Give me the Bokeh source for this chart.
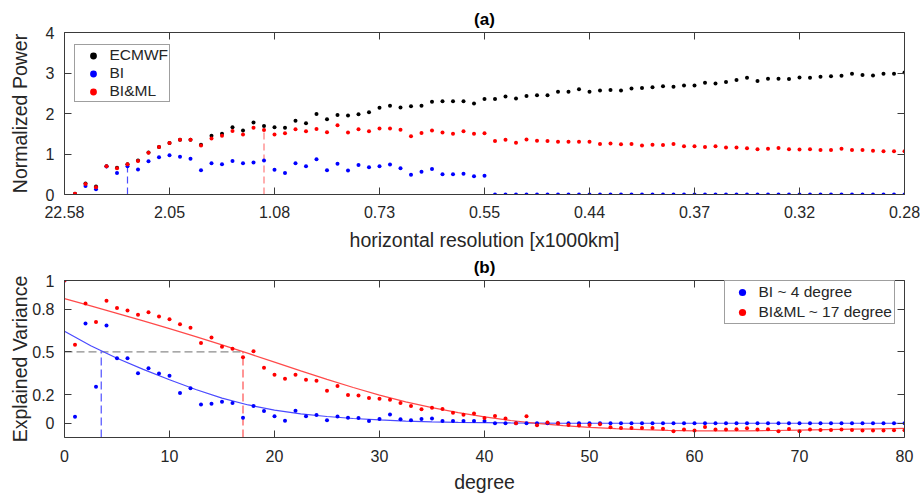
from bokeh.plotting import figure
from bokeh.layouts import column
from bokeh.models import (FixedTicker, LinearAxis, Range1d, Legend, LegendItem,
                          CustomLabelingPolicy)
from bokeh.embed import file_html
from bokeh.resources import INLINE

# ---------------- data: panel (a) ----------------
deg_a = list(range(1, 81))
ecmwf = [0.02, 0.27, 0.20, 0.70, 0.66, 0.75, 0.84, 1.04, 1.17, 1.27, 1.35, 1.35,
         1.23, 1.45, 1.50, 1.66, 1.58, 1.78, 1.69, 1.66, 1.65, 1.82, 1.76, 1.99, 1.86, 1.96, 1.95, 1.98, 2.03, 2.14,
         2.19, 2.15, 2.18, 2.19, 2.29, 2.30, 2.30, 2.30, 2.25, 2.36,
         2.36, 2.42, 2.37, 2.43, 2.45, 2.45, 2.54, 2.54, 2.60, 2.54,
         2.57, 2.58, 2.57, 2.62, 2.63, 2.65, 2.67, 2.66, 2.69, 2.69,
         2.76, 2.74, 2.78, 2.83, 2.88, 2.80, 2.86, 2.86, 2.85, 2.89,
         2.88, 2.91, 2.92, 2.93, 2.98, 2.95, 2.94, 2.98, 2.98, 3.01]
bi_a = [0.00, 0.21, 0.13, 0.69, 0.53, 0.70, 0.62, 0.82, 0.92, 0.97,
        0.93, 0.88, 0.60, 0.77, 0.75, 0.83, 0.77, 0.79, 0.84, 0.61,
        0.53, 0.77, 0.70, 0.87, 0.60, 0.76, 0.59, 0.73, 0.67, 0.70,
        0.74, 0.65, 0.49, 0.56, 0.63, 0.50, 0.50, 0.51, 0.45, 0.46] + [0.0] * 40
biml_a = [0.02, 0.26, 0.18, 0.70, 0.65, 0.75, 0.83, 1.03, 1.17, 1.27,
          1.35, 1.35, 1.21, 1.38, 1.45, 1.57, 1.48, 1.65, 1.59, 1.48,
          1.51, 1.61, 1.56, 1.62, 1.54, 1.71, 1.53, 1.61, 1.56, 1.63,
          1.63, 1.60, 1.44, 1.52, 1.58, 1.53, 1.50, 1.56, 1.50, 1.51,
          1.32, 1.35, 1.28, 1.36, 1.33, 1.32, 1.30, 1.30, 1.30, 1.30,
          1.25, 1.26, 1.24, 1.25, 1.21, 1.23, 1.22, 1.25, 1.19, 1.19,
          1.17, 1.19, 1.16, 1.16, 1.14, 1.12, 1.13, 1.15, 1.12, 1.11,
          1.12, 1.10, 1.10, 1.13, 1.10, 1.10, 1.08, 1.07, 1.07, 1.07]
res_ticks = [0, 10, 20, 30, 40, 50, 60, 70, 80]
res_labels = ["22.58", "2.05", "1.08", "0.73", "0.55", "0.44", "0.37", "0.32", "0.28"]
power_ticks = [0, 1, 2, 3, 4]
cut_a_deg = [6, 19]
cut_a_top = [0.72, 1.63]

# ---------------- data: panel (b) ----------------
deg_b = list(range(0, 81))
bi_b = [1.00, 0.045, 0.698, 0.256, 0.684, 0.456, 0.456, 0.351, 0.385, 0.349,
        0.333, 0.211, 0.245, 0.131, 0.136, 0.151, 0.142, 0.038, 0.121, 0.085,
        0.049, 0.018, 0.087, 0.049, 0.058, 0.020, 0.047, 0.038, 0.036, 0.016,
        0.029, 0.062, 0.027, 0.020, 0.029, 0.033, 0.016, 0.016, 0.016, 0.016,
        0.016] + [0.0] * 40
biml_b = [1.00, 0.549, 0.838, 0.709, 0.858, 0.807, 0.789, 0.760, 0.778, 0.747,
          0.729, 0.694, 0.669, 0.562, 0.600, 0.536, 0.522, 0.462, 0.504, 0.389,
          0.340, 0.312, 0.340, 0.305, 0.298, 0.227, 0.260, 0.198, 0.194, 0.176,
          0.171, 0.165, 0.142, 0.120, 0.098, 0.109, 0.100, 0.074, 0.060, 0.069,
          0.036, 0.051, 0.033, 0.000, 0.049, -0.015, 0.005, 0.000, -0.013, -0.016,
          -0.013, -0.007, -0.029, -0.033, -0.033, -0.033, -0.033, -0.038, -0.056, -0.044,
          -0.051, -0.027, -0.044, -0.044, -0.042, -0.036, -0.044, -0.042, -0.056, -0.040,
          -0.056, -0.044, -0.047, -0.047, -0.044, -0.047, -0.051, -0.051, -0.051, -0.049,
          -0.049]
fit_x = [0, 2.5, 5, 7.5, 10, 12.5, 15, 17.5, 20, 22.5, 25, 27.5, 30, 32.5, 35, 37.5, 40,
         42.5, 45, 47.5, 50, 52.5, 55, 57.5, 60, 62.5, 65, 67.5, 70, 72.5, 75, 77.5, 80]
fit_bi = [0.645, 0.543, 0.455, 0.377, 0.305, 0.236, 0.176, 0.128, 0.092, 0.066, 0.047, 0.033,
          0.023, 0.015, 0.010, 0.006, 0.004, 0.002, 0.001] + [0.0] * 14
fit_biml = [0.873, 0.822, 0.770, 0.717, 0.663, 0.607, 0.549, 0.489, 0.428, 0.367, 0.307, 0.250,
            0.197, 0.150, 0.109, 0.074, 0.044, 0.019, -0.001, -0.017, -0.029, -0.038, -0.045,
            -0.050, -0.053, -0.054, -0.053, -0.051, -0.048, -0.045, -0.042, -0.039, -0.036]
var_ticks = [0, 0.2, 0.5, 0.8, 1]
var_labels = ["0", "0.2", "0.5", "0.8", "1"]
deg_ticks = [0, 10, 20, 30, 40, 50, 60, 70, 80]
threshold = 0.5
cut_b_deg = [3.5, 17]

FONT = "Liberation Sans"
TXT = "#262626"
AX = "#3a3a3a"
TICK_FS = "16px"
LAB_FS = "19.5px"
W = 920

HIDE_CODE = """
try { for (let i = 0; i < indices.size; i++) { indices.unset(i) } } catch (e) {}
return indices
"""


def style_axis(ax, ticks, show_labels=True, overrides=None):
    ax.ticker = FixedTicker(ticks=ticks)
    ax.major_tick_in = 7
    ax.major_tick_out = 0
    ax.minor_tick_line_color = None
    ax.axis_line_color = AX
    ax.major_tick_line_color = AX
    ax.major_label_text_font = FONT
    ax.major_label_text_color = TXT
    ax.axis_label_text_font = FONT
    ax.axis_label_text_font_style = "normal"
    ax.axis_label_text_font_size = LAB_FS
    ax.axis_label_text_color = TXT
    if show_labels:
        ax.major_label_text_font_size = TICK_FS
    else:
        ax.major_label_text_font_size = "1px"
        ax.major_label_standoff = 0
        ax.major_label_policy = CustomLabelingPolicy(code=HIDE_CODE)
    if overrides:
        ax.major_label_overrides = overrides


def base_fig(height, yr, top, bottom, title):
    p = figure(width=W, height=height, x_range=Range1d(0, 80), y_range=Range1d(*yr),
               output_backend="svg", toolbar_location=None,
               min_border_left=64, min_border_right=W - 904,
               min_border_top=top, min_border_bottom=bottom)
    p.grid.visible = False
    p.outline_line_color = None
    p.background_fill_color = "white"
    p.border_fill_color = "white"
    p.title.text = title
    p.title.align = "center"
    p.title.text_font = FONT
    p.title.text_font_size = "17px"
    p.title.text_font_style = "bold"
    p.title.text_color = "black"
    p.title.standoff = 0
    return p


# ---------------- panel (a) ----------------
p1 = base_fig(255, (0, 4), 32, 61, "(a)")
style_axis(p1.xaxis[0], res_ticks, overrides={t: l for t, l in zip(res_ticks, res_labels)})
p1.xaxis[0].axis_label = "horizontal resolution [x1000km]"
p1.xaxis[0].major_label_standoff = 11
p1.xaxis[0].axis_label_standoff = 8
style_axis(p1.yaxis[0], power_ticks)
p1.yaxis[0].axis_label = "Normalized Power"
p1.yaxis[0].major_label_standoff = 10
p1.yaxis[0].axis_label_standoff = 12
ta = LinearAxis()
style_axis(ta, res_ticks, show_labels=False)
p1.add_layout(ta, "above")
ra = LinearAxis()
style_axis(ra, power_ticks, show_labels=False)
p1.add_layout(ra, "right")

p1.segment(x0=[cut_a_deg[0]], y0=[0], x1=[cut_a_deg[0]], y1=[cut_a_top[0]],
           line_color="#4d4dff", line_width=1.2, line_dash="7 4")
p1.segment(x0=[cut_a_deg[1]], y0=[0], x1=[cut_a_deg[1]], y1=[cut_a_top[1]],
           line_color="#ff7a7a", line_width=1.2, line_dash="7 4")
r_ec = p1.scatter(deg_a, ecmwf, size=4, fill_color="black", line_color=None)
r_bi = p1.scatter(deg_a, bi_a, size=4, fill_color="#0000ff", line_color=None)
r_ml = p1.scatter(deg_a, biml_a, size=4, fill_color="#ff0000", line_color=None)

leg1 = Legend(items=[LegendItem(label="ECMWF", renderers=[r_ec]),
                     LegendItem(label="BI", renderers=[r_bi]),
                     LegendItem(label="BI&ML", renderers=[r_ml])],
              location=(9.5, 92), margin=0, padding=1, spacing=0,
              label_height=17, glyph_height=17, glyph_width=34, label_standoff=0,
              label_text_font=FONT, label_text_font_size="15.5px", label_text_color=TXT,
              border_line_color="#404040", border_line_width=1,
              background_fill_color="white", background_fill_alpha=1)
p1.add_layout(leg1)

# ---------------- panel (b) ----------------
p2 = base_fig(240, (-0.1, 1.0), 21, 55, "(b)")
style_axis(p2.xaxis[0], deg_ticks)
p2.xaxis[0].axis_label = "degree"
p2.xaxis[0].major_label_standoff = 12
p2.xaxis[0].axis_label_standoff = 6
style_axis(p2.yaxis[0], var_ticks, overrides={t: l for t, l in zip(var_ticks, var_labels)})
p2.yaxis[0].axis_label = "Explained Variance"
p2.yaxis[0].major_label_standoff = 10
p2.yaxis[0].axis_label_standoff = -2
tb = LinearAxis()
style_axis(tb, deg_ticks, show_labels=False)
p2.add_layout(tb, "above")
rb = LinearAxis()
style_axis(rb, var_ticks, show_labels=False)
p2.add_layout(rb, "right")

p2.segment(x0=[0], y0=[threshold], x1=[cut_b_deg[1]], y1=[threshold],
           line_color="#8c8c8c", line_width=1.3, line_dash="8 4")
p2.segment(x0=[cut_b_deg[0]], y0=[-0.1], x1=[cut_b_deg[0]], y1=[threshold],
           line_color="#5c5cff", line_width=1.3, line_dash="8 4")
p2.segment(x0=[cut_b_deg[1]], y0=[-0.1], x1=[cut_b_deg[1]], y1=[threshold],
           line_color="#ff5c5c", line_width=1.3, line_dash="8 4")
p2.line(fit_x, fit_bi, line_color="#4a4aff", line_width=1.2)
p2.line(fit_x, fit_biml, line_color="#ff4a4a", line_width=1.2)
rb_bi = p2.scatter(deg_b, bi_b, size=4, fill_color="#0000ff", line_color=None)
rb_ml = p2.scatter(deg_b, biml_b, size=4, fill_color="#ff0000", line_color=None)

leg2 = Legend(items=[LegendItem(label="BI ~ 4 degree", renderers=[rb_bi]),
                     LegendItem(label="BI&ML ~ 17 degree", renderers=[rb_ml])],
              location=(659.5, 113), margin=0, padding=2, spacing=2,
              label_height=18, glyph_height=18, glyph_width=30, label_standoff=2,
              label_text_font=FONT, label_text_font_size="15.5px", label_text_color=TXT,
              border_line_color="#404040", border_line_width=1,
              background_fill_color="white", background_fill_alpha=1)
p2.add_layout(leg2)

layout = column(p1, p2, spacing=0)
open("out.html", "w").write(file_html(layout, INLINE))
